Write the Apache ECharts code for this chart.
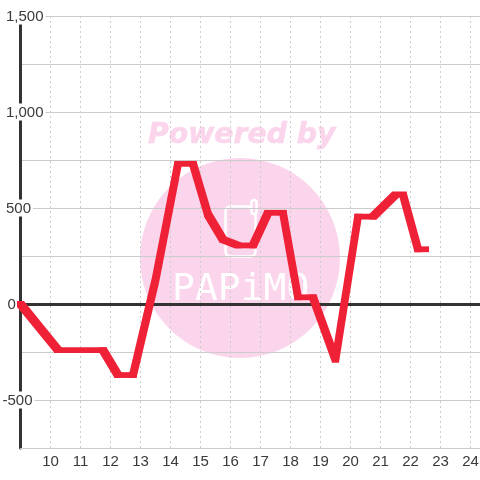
<!DOCTYPE html>
<html><head><meta charset="utf-8">
<style>html,body{margin:0;padding:0;background:#fff}#c{width:480px;height:480px}</style>
<script src="https://cdn.jsdelivr.net/npm/echarts@6/dist/echarts.min.js"></script>
</head><body><div id="c"></div>
<script>
const hours  = [9,10.25,11.75,12.25,12.75,13.5,14.25,14.75,15.25,15.75,16.25,16.75,17.25,17.75,18.25,18.75,19.5,20.25,20.75,21.5,21.75,22.25,22.5];
const values = [0,-240,-240,-370,-370,125,730,730,465,335,305,305,475,475,35,35,-290,455,455,570,570,285,285];
const valueTicks = [1500,1000,500,0,-500];
const chart = echarts.init(document.getElementById('c'),null,{renderer:'canvas'});
const pink='#fbd5ec', red='#ef2137';
const richKey = v => v===0?'z':(v===-500?'n':'p');
const labelBase={fontSize:15,color:'#3a3a3a',fontFamily:'"Liberation Sans"'};
// The reference pen is a flat rectangular brush: wider than tall.
const brushW=7, brushH=5.8;
function hull(pts){
  pts=pts.slice().sort((a,b)=>a[0]-b[0]||a[1]-b[1]);
  const cross=(o,a,b)=>(a[0]-o[0])*(b[1]-o[1])-(a[1]-o[1])*(b[0]-o[0]);
  const half=list=>{const r=[];for(const p of list){while(r.length>1&&cross(r[r.length-2],r[r.length-1],p)<=0)r.pop();r.push(p);}r.pop();return r;};
  return half(pts).concat(half(pts.slice().reverse()));
}
const segments=hours.slice(1).map((h,i)=>[hours[i],values[i],h,values[i+1]]);
chart.setOption({
  animation:false,
  backgroundColor:'#fff',
  grid:{left:20.5,top:16,width:480,height:432,containLabel:false,outerBoundsMode:'none'},
  graphic:{elements:[
    {type:'circle',z:-10,silent:true,shape:{cx:240,cy:258,r:100},style:{fill:pink}},
    {type:'text',z:-9,silent:true,x:148,y:122,style:{text:'Powered by',fill:pink,stroke:pink,lineWidth:0.6,font:'italic bold 28.3px "DejaVu Sans"'}},
    {type:'rect',z:-9,silent:true,shape:{x:225.5,y:206.5,width:30,height:50,r:5},style:{fill:'none',stroke:'#fff',lineWidth:2.5}},
    {type:'rect',z:-9,silent:true,shape:{x:251.5,y:200,width:5,height:14,r:2.5},style:{fill:pink,stroke:'#fff',lineWidth:2.5}},
    {type:'text',z:-9,silent:true,x:172,y:271,style:{text:'PAPiMO',fill:'#fff',font:'38px "DejaVu Sans Mono"'}}
  ]},
  xAxis:[{
    type:'value',min:9,max:25,interval:1,position:'bottom',
    axisLine:{onZero:false,show:true,lineStyle:{color:'#ccc',width:1}},
    axisTick:{show:false},
    axisLabel:{show:true,...labelBase,margin:6,showMinLabel:true,showMaxLabel:false,
      formatter:v=>(v>=10&&v<=24)?String(v):''},
    splitLine:{show:true,showMaxLine:false,lineStyle:{color:'#ccc',type:[2,3],width:1}}
  },{
    type:'value',min:9,max:25,interval:1,position:'top',
    axisLine:{onZero:true,show:true,lineStyle:{color:'#333',width:3}},
    axisTick:{show:false},axisLabel:{show:false},splitLine:{show:false}
  }],
  yAxis:{
    type:'value',min:-750,max:1500,interval:250,
    axisLine:{show:true,onZero:false,lineStyle:{color:'#333',width:3}},
    axisTick:{show:false},
    splitLine:{show:true,lineStyle:{color:'#ccc',width:1}},
    axisLabel:{show:true,margin:18,align:'left',showMinLabel:true,showMaxLabel:true,
      formatter:v=>valueTicks.includes(v)?`{${richKey(v)}|${echarts.format.addCommas(v)}}`:'',
      rich:{
        p:{...labelBase,backgroundColor:'#fff',padding:[2,2,0,3.5]},
        n:{...labelBase,backgroundColor:'#fff',padding:[2,2,0,0]},
        z:{...labelBase,padding:[2,0,0,5]}
      }}
  },
  series:[{
    type:'line',xAxisIndex:0,yAxisIndex:0,data:hours.map((h,i)=>[h,values[i]]),
    symbol:'none',smooth:false,clip:false,z:5,
    lineStyle:{color:red,width:4,cap:'butt',join:'bevel'}
  },{
    type:'custom',xAxisIndex:0,yAxisIndex:0,data:segments,clip:false,z:6,silent:true,
    encode:{x:[0,2],y:[1,3]},
    renderItem:(p,api)=>{
      const a=api.coord([api.value(0),api.value(1)]),b=api.coord([api.value(2),api.value(3)]);
      const pts=[];
      for(const c of [a,b])for(const sx of [-1,1])for(const sy of [-1,1])pts.push([c[0]+sx*brushW/2,c[1]+sy*brushH/2]);
      return {type:'polygon',shape:{points:hull(pts)},style:{fill:red}};
    }
  }]
});
</script></body></html>
